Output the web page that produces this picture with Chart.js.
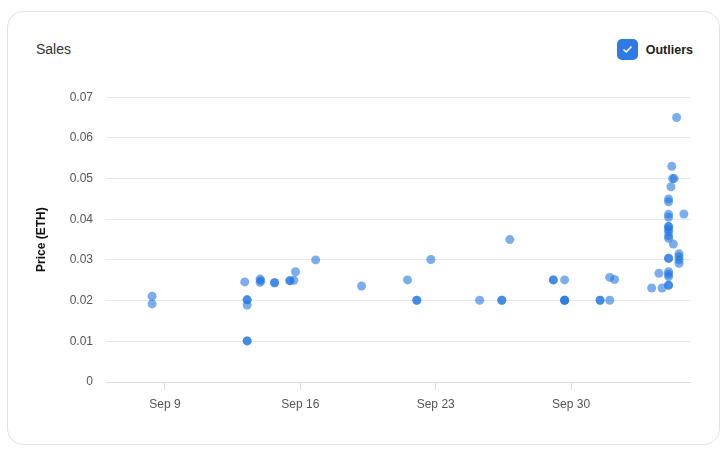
<!DOCTYPE html>
<html>
<head>
<meta charset="utf-8">
<title>Sales</title>
<script src="https://cdn.jsdelivr.net/npm/chart.js"></script>
<style>
  body { margin: 0; background: #fff; font-family: Arial, "Liberation Sans", sans-serif; }
  .card { position: absolute; left: 7px; top: 11px; width: 711px; height: 432px;
          border: 1px solid #e2e2e2; border-radius: 16px; background: #fff; }
  .title { position: absolute; left: 28px; top: 29px; font-size: 14px; color: #333; }
  .toggle { position: absolute; right: 26px; top: 27px; display: flex; align-items: center; }
  .box { width: 21px; height: 21px; border-radius: 5px; background: #2f7ae5; display: flex;
         align-items: center; justify-content: center; margin-right: 8px; }
  .toggle span { font-size: 12.5px; font-weight: bold; color: #222; }
  #wrap { position: absolute; left: 20px; top: 77px; width: 680px; height: 343px; }
</style>
</head>
<body>
<div class="card">
  <div class="title">Sales</div>
  <div class="toggle">
    <div class="box">
      <svg width="11" height="9" viewBox="0 0 11 9"><path d="M1.5 4.5 L4.2 7 L9.5 1.5" fill="none" stroke="#fff" stroke-width="1.6"/></svg>
    </div>
    <span>Outliers</span>
  </div>
</div>
<div id="wrap"><canvas id="salesChart"></canvas></div>
<script>
// sale times and prices
const saleTimes = [
  '2024-09-08T08:00', '2024-09-08T08:00',
  '2024-09-13T03:00', '2024-09-13T06:00', '2024-09-13T06:00', '2024-09-13T06:00',
  '2024-09-13T06:00', '2024-09-13T06:00',
  '2024-09-13T22:00', '2024-09-13T22:00', '2024-09-13T23:00',
  '2024-09-14T16:00', '2024-09-14T16:00',
  '2024-09-15T11:00', '2024-09-15T11:00', '2024-09-15T16:00', '2024-09-15T18:00',
  '2024-09-16T19:00', '2024-09-19T04:00',
  '2024-09-21T13:00', '2024-09-22T00:30', '2024-09-22T00:30', '2024-09-22T18:00',
  '2024-09-25T06:30', '2024-09-26T10:00', '2024-09-26T10:00', '2024-09-26T20:00',
  '2024-09-29T02:00', '2024-09-29T02:00', '2024-09-29T16:00',
  '2024-09-29T16:00', '2024-09-29T16:00', '2024-09-29T16:00',
  '2024-10-01T12:00', '2024-10-01T12:00', '2024-10-02T00:00', '2024-10-02T00:00', '2024-10-02T06:00',
  '2024-10-04T04:00', '2024-10-04T13:00', '2024-10-04T17:00',
  '2024-10-05T01:00', '2024-10-05T01:00', '2024-10-05T01:00', '2024-10-05T01:00', '2024-10-05T01:00',
  '2024-10-05T01:00', '2024-10-05T01:00', '2024-10-05T01:00', '2024-10-05T01:00', '2024-10-05T01:00',
  '2024-10-05T01:00', '2024-10-05T01:00', '2024-10-05T01:00', '2024-10-05T01:00', '2024-10-05T01:00',
  '2024-10-05T01:00', '2024-10-05T01:00',
  '2024-10-05T07:00', '2024-10-05T05:00', '2024-10-05T04:00', '2024-10-05T06:00', '2024-10-05T08:00',
  '2024-10-05T11:00',
  '2024-10-05T14:00', '2024-10-05T14:00', '2024-10-05T14:00', '2024-10-05T14:00',
  '2024-10-05T20:00'
];
const salePrices = [
  0.0211, 0.0192,
  0.0246, 0.0202, 0.0202, 0.0189,
  0.0101, 0.0101,
  0.0253, 0.0245, 0.0249,
  0.0244, 0.0244,
  0.0249, 0.0249, 0.0250, 0.0271,
  0.0300, 0.0236,
  0.0251, 0.0201, 0.0201, 0.0301,
  0.0201, 0.0201, 0.0201, 0.0350,
  0.0251, 0.0251, 0.0251,
  0.0201, 0.0201, 0.0201,
  0.0201, 0.0201, 0.0201, 0.0257, 0.0252,
  0.0231, 0.0267, 0.0231,
  0.0238, 0.0238, 0.0259, 0.0265, 0.0271,
  0.0304, 0.0304, 0.0353, 0.0359, 0.0369,
  0.0375, 0.0382, 0.0382, 0.0405, 0.0412,
  0.0443, 0.0450,
  0.0339, 0.0530, 0.0480, 0.0500, 0.0500,
  0.0650,
  0.0315, 0.0308, 0.0300, 0.0292,
  0.0413
];
const xTickDays = [9, 16, 23, 30];
const yTicks = [0, 0.01, 0.02, 0.03, 0.04, 0.05, 0.06, 0.07];

// day number counted from Aug 31 (so Sep 1 = 1, Oct 1 = 31)
const origin = Date.UTC(2024, 7, 31);
const toDay = s => (Date.parse(s + ':00Z') - origin) / 864e5;

const points = saleTimes.map((t, i) => ({ x: toDay(t), y: salePrices[i] }));

const ctx = document.getElementById('salesChart').getContext('2d');
new Chart(ctx, {
  type: 'scatter',
  data: {
    datasets: [{
      label: 'Sales',
      data: points,
      backgroundColor: 'rgba(30, 115, 225, 0.58)',
      borderWidth: 0,
      pointRadius: 4.5,
      pointHoverRadius: 5
    }]
  },
  options: {
    responsive: true,
    maintainAspectRatio: false,
    animation: false,
    layout: { padding: { top: 4, right: 10 } },
    plugins: { legend: { display: false }, tooltip: { enabled: false } },
    scales: {
      x: {
        type: 'linear',
        min: 5.95,
        max: 36.15,
        afterFit: s => { s.height = 38; },
        afterBuildTicks: s => { s.ticks = xTickDays.map(v => ({ value: v })); },
        ticks: {
          color: '#555',
          font: { family: 'Arial, "Liberation Sans"', size: 12 },
          padding: 7,
          maxRotation: 0,
          callback: v => v <= 30 ? 'Sep ' + v : 'Oct ' + (v - 30)
        },
        grid: { drawOnChartArea: false, drawTicks: true, tickLength: 8, color: '#dddddd' },
        border: { display: true, color: '#dddddd' }
      },
      y: {
        min: 0,
        max: 0.07,
        afterFit: s => { s.width = 86; },
        afterBuildTicks: s => { s.ticks = yTicks.map(v => ({ value: v })); },
        ticks: {
          color: '#555',
          font: { family: 'Arial, "Liberation Sans"', size: 12 },
          padding: 13,
          callback: v => v === 0 ? '0' : v.toFixed(2)
        },
        grid: { color: '#e8e8e8', drawTicks: false },
        border: { display: false },
        title: {
          display: true,
          text: 'Price (ETH)',
          color: '#111',
          padding: { top: 14, bottom: 4 },
          font: { family: 'Arial, "Liberation Sans"', size: 12, weight: 'bold' }
        }
      }
    }
  }
});
</script>
</body>
</html>
